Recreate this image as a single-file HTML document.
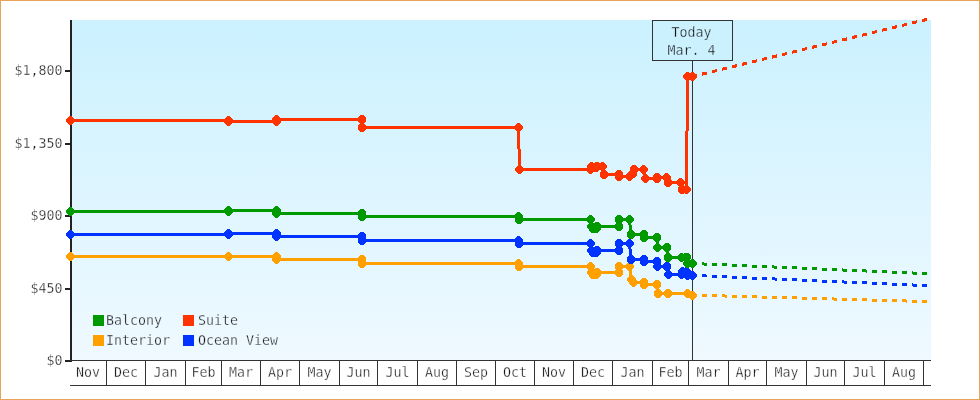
<!DOCTYPE html>
<html><head><meta charset="utf-8"><title>Price chart</title>
<style>
html,body{margin:0;padding:0;background:#fff;}
body{width:980px;height:400px;position:relative;overflow:hidden;}
svg text{font-family:"DejaVu Sans Mono","Liberation Mono",monospace;font-size:13.3px;fill:#151515;stroke:#fff;stroke-width:0.3px;}
svg text.lg{stroke:#ebf7ff;}
svg text.td{stroke:#cbf1ff;}
</style></head><body>
<svg width="980" height="400" viewBox="0 0 980 400" style="position:absolute;left:0;top:0">
<defs><linearGradient id="bg" x1="0" y1="0" x2="0" y2="1"><stop offset="0" stop-color="#cbf1ff"/><stop offset="1" stop-color="#eff9ff"/></linearGradient></defs>
<rect x="0.5" y="0.5" width="979" height="399" fill="#fff" stroke="#e9a359" stroke-width="1"/>
<rect x="72" y="20" width="859" height="340" fill="url(#bg)"/>
<rect x="70" y="20" width="2" height="342" fill="#222"/>
<rect x="65" y="70" width="5" height="2" fill="#222"/>
<text x="62.5" y="75.0" text-anchor="end">$1,800</text>
<rect x="65" y="143" width="5" height="2" fill="#222"/>
<text x="62.5" y="148.0" text-anchor="end">$1,350</text>
<rect x="65" y="215" width="5" height="2" fill="#222"/>
<text x="62.5" y="220.0" text-anchor="end">$900</text>
<rect x="65" y="288" width="5" height="2" fill="#222"/>
<text x="62.5" y="293.0" text-anchor="end">$450</text>
<rect x="65" y="360" width="5" height="2" fill="#222"/>
<text x="62.5" y="365.0" text-anchor="end">$0</text>
<rect x="70" y="360" width="861" height="1" fill="#333333"/>
<rect x="70" y="385" width="861" height="1" fill="#333333"/>
<rect x="106" y="360" width="1" height="26" fill="#333333"/>
<text x="88.0" y="377" text-anchor="middle">Nov</text>
<rect x="145" y="360" width="1" height="26" fill="#333333"/>
<text x="126.0" y="377" text-anchor="middle">Dec</text>
<rect x="185" y="360" width="1" height="26" fill="#333333"/>
<text x="165.5" y="377" text-anchor="middle">Jan</text>
<rect x="221" y="360" width="1" height="26" fill="#333333"/>
<text x="203.5" y="377" text-anchor="middle">Feb</text>
<rect x="260" y="360" width="1" height="26" fill="#333333"/>
<text x="241.0" y="377" text-anchor="middle">Mar</text>
<rect x="299" y="360" width="1" height="26" fill="#333333"/>
<text x="280.0" y="377" text-anchor="middle">Apr</text>
<rect x="339" y="360" width="1" height="26" fill="#333333"/>
<text x="319.5" y="377" text-anchor="middle">May</text>
<rect x="377" y="360" width="1" height="26" fill="#333333"/>
<text x="358.5" y="377" text-anchor="middle">Jun</text>
<rect x="417" y="360" width="1" height="26" fill="#333333"/>
<text x="397.5" y="377" text-anchor="middle">Jul</text>
<rect x="456" y="360" width="1" height="26" fill="#333333"/>
<text x="437.0" y="377" text-anchor="middle">Aug</text>
<rect x="495" y="360" width="1" height="26" fill="#333333"/>
<text x="476.0" y="377" text-anchor="middle">Sep</text>
<rect x="534" y="360" width="1" height="26" fill="#333333"/>
<text x="515.0" y="377" text-anchor="middle">Oct</text>
<rect x="573" y="360" width="1" height="26" fill="#333333"/>
<text x="554.0" y="377" text-anchor="middle">Nov</text>
<rect x="612" y="360" width="1" height="26" fill="#333333"/>
<text x="593.0" y="377" text-anchor="middle">Dec</text>
<rect x="652" y="360" width="1" height="26" fill="#333333"/>
<text x="632.5" y="377" text-anchor="middle">Jan</text>
<rect x="688" y="360" width="1" height="26" fill="#333333"/>
<text x="670.5" y="377" text-anchor="middle">Feb</text>
<rect x="728" y="360" width="1" height="26" fill="#333333"/>
<text x="708.5" y="377" text-anchor="middle">Mar</text>
<rect x="766" y="360" width="1" height="26" fill="#333333"/>
<text x="747.5" y="377" text-anchor="middle">Apr</text>
<rect x="806" y="360" width="1" height="26" fill="#333333"/>
<text x="786.5" y="377" text-anchor="middle">May</text>
<rect x="844" y="360" width="1" height="26" fill="#333333"/>
<text x="825.5" y="377" text-anchor="middle">Jun</text>
<rect x="884" y="360" width="1" height="26" fill="#333333"/>
<text x="864.5" y="377" text-anchor="middle">Jul</text>
<rect x="923" y="360" width="1" height="26" fill="#333333"/>
<text x="904.0" y="377" text-anchor="middle">Aug</text>
<rect x="692" y="60" width="1" height="300" fill="#333333"/>
<line shape-rendering="crispEdges" x1="692.5" y1="295.1" x2="931.0" y2="301.7" stroke="#ffa000" stroke-width="3" stroke-dasharray="5.002 5.002" stroke-dashoffset="0.500"/>
<polyline fill="none" shape-rendering="crispEdges" stroke="#ffa000" stroke-width="3" stroke-linejoin="round" points="70.5,256.5 228.5,256.5 276.5,256.5 276.5,259.5 362.0,259.5 362.0,263.5 518.5,263.5 519.0,266.5 590.5,266.5 591.5,272.5 593.0,274.5 596.5,274.5 597.0,272.5 619.0,272.5 619.0,266.5 629.5,266.5 631.5,279.5 633.5,282.5 644.0,282.5 644.0,284.5 657.0,284.5 658.0,293.5 668.0,293.5 687.5,293.5 692.5,295.5"/>
<polygon points="66.1,255.2 69.2,252.1 71.8,252.1 74.9,255.2 74.9,257.8 71.8,260.9 69.2,260.9 66.1,257.8" fill="#ffa000" shape-rendering="crispEdges"/>
<polygon points="224.1,255.2 227.2,252.1 229.8,252.1 232.9,255.2 232.9,257.8 229.8,260.9 227.2,260.9 224.1,257.8" fill="#ffa000" shape-rendering="crispEdges"/>
<polygon points="272.1,255.2 275.2,252.1 277.8,252.1 280.9,255.2 280.9,257.8 277.8,260.9 275.2,260.9 272.1,257.8" fill="#ffa000" shape-rendering="crispEdges"/>
<polygon points="272.1,258.2 275.2,255.1 277.8,255.1 280.9,258.2 280.9,260.8 277.8,263.9 275.2,263.9 272.1,260.8" fill="#ffa000" shape-rendering="crispEdges"/>
<polygon points="357.6,258.2 360.7,255.1 363.3,255.1 366.4,258.2 366.4,260.8 363.3,263.9 360.7,263.9 357.6,260.8" fill="#ffa000" shape-rendering="crispEdges"/>
<polygon points="357.6,262.2 360.7,259.1 363.3,259.1 366.4,262.2 366.4,264.8 363.3,267.9 360.7,267.9 357.6,264.8" fill="#ffa000" shape-rendering="crispEdges"/>
<polygon points="514.1,262.2 517.2,259.1 519.8,259.1 522.9,262.2 522.9,264.8 519.8,267.9 517.2,267.9 514.1,264.8" fill="#ffa000" shape-rendering="crispEdges"/>
<polygon points="514.6,265.2 517.7,262.1 520.3,262.1 523.4,265.2 523.4,267.8 520.3,270.9 517.7,270.9 514.6,267.8" fill="#ffa000" shape-rendering="crispEdges"/>
<polygon points="586.1,265.2 589.2,262.1 591.8,262.1 594.9,265.2 594.9,267.8 591.8,270.9 589.2,270.9 586.1,267.8" fill="#ffa000" shape-rendering="crispEdges"/>
<polygon points="587.1,271.2 590.2,268.1 592.8,268.1 595.9,271.2 595.9,273.8 592.8,276.9 590.2,276.9 587.1,273.8" fill="#ffa000" shape-rendering="crispEdges"/>
<polygon points="588.6,273.2 591.7,270.1 594.3,270.1 597.4,273.2 597.4,275.8 594.3,278.9 591.7,278.9 588.6,275.8" fill="#ffa000" shape-rendering="crispEdges"/>
<polygon points="592.1,273.2 595.2,270.1 597.8,270.1 600.9,273.2 600.9,275.8 597.8,278.9 595.2,278.9 592.1,275.8" fill="#ffa000" shape-rendering="crispEdges"/>
<polygon points="592.6,271.2 595.7,268.1 598.3,268.1 601.4,271.2 601.4,273.8 598.3,276.9 595.7,276.9 592.6,273.8" fill="#ffa000" shape-rendering="crispEdges"/>
<polygon points="614.6,271.2 617.7,268.1 620.3,268.1 623.4,271.2 623.4,273.8 620.3,276.9 617.7,276.9 614.6,273.8" fill="#ffa000" shape-rendering="crispEdges"/>
<polygon points="614.6,265.2 617.7,262.1 620.3,262.1 623.4,265.2 623.4,267.8 620.3,270.9 617.7,270.9 614.6,267.8" fill="#ffa000" shape-rendering="crispEdges"/>
<polygon points="625.1,265.2 628.2,262.1 630.8,262.1 633.9,265.2 633.9,267.8 630.8,270.9 628.2,270.9 625.1,267.8" fill="#ffa000" shape-rendering="crispEdges"/>
<polygon points="627.1,278.2 630.2,275.1 632.8,275.1 635.9,278.2 635.9,280.8 632.8,283.9 630.2,283.9 627.1,280.8" fill="#ffa000" shape-rendering="crispEdges"/>
<polygon points="629.1,281.2 632.2,278.1 634.8,278.1 637.9,281.2 637.9,283.8 634.8,286.9 632.2,286.9 629.1,283.8" fill="#ffa000" shape-rendering="crispEdges"/>
<polygon points="639.6,281.2 642.7,278.1 645.3,278.1 648.4,281.2 648.4,283.8 645.3,286.9 642.7,286.9 639.6,283.8" fill="#ffa000" shape-rendering="crispEdges"/>
<polygon points="639.6,283.2 642.7,280.1 645.3,280.1 648.4,283.2 648.4,285.8 645.3,288.9 642.7,288.9 639.6,285.8" fill="#ffa000" shape-rendering="crispEdges"/>
<polygon points="652.6,283.2 655.7,280.1 658.3,280.1 661.4,283.2 661.4,285.8 658.3,288.9 655.7,288.9 652.6,285.8" fill="#ffa000" shape-rendering="crispEdges"/>
<polygon points="653.6,292.2 656.7,289.1 659.3,289.1 662.4,292.2 662.4,294.8 659.3,297.9 656.7,297.9 653.6,294.8" fill="#ffa000" shape-rendering="crispEdges"/>
<polygon points="663.6,292.2 666.7,289.1 669.3,289.1 672.4,292.2 672.4,294.8 669.3,297.9 666.7,297.9 663.6,294.8" fill="#ffa000" shape-rendering="crispEdges"/>
<polygon points="683.1,292.2 686.2,289.1 688.8,289.1 691.9,292.2 691.9,294.8 688.8,297.9 686.2,297.9 683.1,294.8" fill="#ffa000" shape-rendering="crispEdges"/>
<polygon points="688.1,294.2 691.2,291.1 693.8,291.1 696.9,294.2 696.9,296.8 693.8,299.9 691.2,299.9 688.1,296.8" fill="#ffa000" shape-rendering="crispEdges"/>
<line shape-rendering="crispEdges" x1="692.5" y1="275.4" x2="931.0" y2="285.8" stroke="#0033ff" stroke-width="3" stroke-dasharray="5.005 5.005" stroke-dashoffset="0.500"/>
<polyline fill="none" shape-rendering="crispEdges" stroke="#0033ff" stroke-width="3" stroke-linejoin="round" points="70.5,234.5 228.5,234.5 228.5,233.5 276.5,233.5 276.5,236.5 362.0,236.5 362.0,240.5 518.5,240.5 519.0,243.5 590.5,243.5 591.5,250.5 593.0,252.5 596.5,252.5 597.0,250.5 619.0,250.5 619.0,243.5 629.5,243.5 631.0,259.5 644.0,259.5 644.0,261.5 657.0,261.5 657.5,266.5 667.0,266.5 668.5,274.5 681.5,274.5 682.5,271.5 686.5,271.5 687.5,275.5 692.5,275.5"/>
<polygon points="66.1,233.2 69.2,230.1 71.8,230.1 74.9,233.2 74.9,235.8 71.8,238.9 69.2,238.9 66.1,235.8" fill="#0033ff" shape-rendering="crispEdges"/>
<polygon points="224.1,233.2 227.2,230.1 229.8,230.1 232.9,233.2 232.9,235.8 229.8,238.9 227.2,238.9 224.1,235.8" fill="#0033ff" shape-rendering="crispEdges"/>
<polygon points="224.1,232.2 227.2,229.1 229.8,229.1 232.9,232.2 232.9,234.8 229.8,237.9 227.2,237.9 224.1,234.8" fill="#0033ff" shape-rendering="crispEdges"/>
<polygon points="272.1,232.2 275.2,229.1 277.8,229.1 280.9,232.2 280.9,234.8 277.8,237.9 275.2,237.9 272.1,234.8" fill="#0033ff" shape-rendering="crispEdges"/>
<polygon points="272.1,235.2 275.2,232.1 277.8,232.1 280.9,235.2 280.9,237.8 277.8,240.9 275.2,240.9 272.1,237.8" fill="#0033ff" shape-rendering="crispEdges"/>
<polygon points="357.6,235.2 360.7,232.1 363.3,232.1 366.4,235.2 366.4,237.8 363.3,240.9 360.7,240.9 357.6,237.8" fill="#0033ff" shape-rendering="crispEdges"/>
<polygon points="357.6,239.2 360.7,236.1 363.3,236.1 366.4,239.2 366.4,241.8 363.3,244.9 360.7,244.9 357.6,241.8" fill="#0033ff" shape-rendering="crispEdges"/>
<polygon points="514.1,239.2 517.2,236.1 519.8,236.1 522.9,239.2 522.9,241.8 519.8,244.9 517.2,244.9 514.1,241.8" fill="#0033ff" shape-rendering="crispEdges"/>
<polygon points="514.6,242.2 517.7,239.1 520.3,239.1 523.4,242.2 523.4,244.8 520.3,247.9 517.7,247.9 514.6,244.8" fill="#0033ff" shape-rendering="crispEdges"/>
<polygon points="586.1,242.2 589.2,239.1 591.8,239.1 594.9,242.2 594.9,244.8 591.8,247.9 589.2,247.9 586.1,244.8" fill="#0033ff" shape-rendering="crispEdges"/>
<polygon points="587.1,249.2 590.2,246.1 592.8,246.1 595.9,249.2 595.9,251.8 592.8,254.9 590.2,254.9 587.1,251.8" fill="#0033ff" shape-rendering="crispEdges"/>
<polygon points="588.6,251.2 591.7,248.1 594.3,248.1 597.4,251.2 597.4,253.8 594.3,256.9 591.7,256.9 588.6,253.8" fill="#0033ff" shape-rendering="crispEdges"/>
<polygon points="592.1,251.2 595.2,248.1 597.8,248.1 600.9,251.2 600.9,253.8 597.8,256.9 595.2,256.9 592.1,253.8" fill="#0033ff" shape-rendering="crispEdges"/>
<polygon points="592.6,249.2 595.7,246.1 598.3,246.1 601.4,249.2 601.4,251.8 598.3,254.9 595.7,254.9 592.6,251.8" fill="#0033ff" shape-rendering="crispEdges"/>
<polygon points="614.6,249.2 617.7,246.1 620.3,246.1 623.4,249.2 623.4,251.8 620.3,254.9 617.7,254.9 614.6,251.8" fill="#0033ff" shape-rendering="crispEdges"/>
<polygon points="614.6,242.2 617.7,239.1 620.3,239.1 623.4,242.2 623.4,244.8 620.3,247.9 617.7,247.9 614.6,244.8" fill="#0033ff" shape-rendering="crispEdges"/>
<polygon points="625.1,242.2 628.2,239.1 630.8,239.1 633.9,242.2 633.9,244.8 630.8,247.9 628.2,247.9 625.1,244.8" fill="#0033ff" shape-rendering="crispEdges"/>
<polygon points="626.6,258.2 629.7,255.1 632.3,255.1 635.4,258.2 635.4,260.8 632.3,263.9 629.7,263.9 626.6,260.8" fill="#0033ff" shape-rendering="crispEdges"/>
<polygon points="639.6,258.2 642.7,255.1 645.3,255.1 648.4,258.2 648.4,260.8 645.3,263.9 642.7,263.9 639.6,260.8" fill="#0033ff" shape-rendering="crispEdges"/>
<polygon points="639.6,260.2 642.7,257.1 645.3,257.1 648.4,260.2 648.4,262.8 645.3,265.9 642.7,265.9 639.6,262.8" fill="#0033ff" shape-rendering="crispEdges"/>
<polygon points="652.6,260.2 655.7,257.1 658.3,257.1 661.4,260.2 661.4,262.8 658.3,265.9 655.7,265.9 652.6,262.8" fill="#0033ff" shape-rendering="crispEdges"/>
<polygon points="653.1,265.2 656.2,262.1 658.8,262.1 661.9,265.2 661.9,267.8 658.8,270.9 656.2,270.9 653.1,267.8" fill="#0033ff" shape-rendering="crispEdges"/>
<polygon points="662.6,265.2 665.7,262.1 668.3,262.1 671.4,265.2 671.4,267.8 668.3,270.9 665.7,270.9 662.6,267.8" fill="#0033ff" shape-rendering="crispEdges"/>
<polygon points="664.1,273.2 667.2,270.1 669.8,270.1 672.9,273.2 672.9,275.8 669.8,278.9 667.2,278.9 664.1,275.8" fill="#0033ff" shape-rendering="crispEdges"/>
<polygon points="677.1,273.2 680.2,270.1 682.8,270.1 685.9,273.2 685.9,275.8 682.8,278.9 680.2,278.9 677.1,275.8" fill="#0033ff" shape-rendering="crispEdges"/>
<polygon points="678.1,270.2 681.2,267.1 683.8,267.1 686.9,270.2 686.9,272.8 683.8,275.9 681.2,275.9 678.1,272.8" fill="#0033ff" shape-rendering="crispEdges"/>
<polygon points="682.1,270.2 685.2,267.1 687.8,267.1 690.9,270.2 690.9,272.8 687.8,275.9 685.2,275.9 682.1,272.8" fill="#0033ff" shape-rendering="crispEdges"/>
<polygon points="683.1,274.2 686.2,271.1 688.8,271.1 691.9,274.2 691.9,276.8 688.8,279.9 686.2,279.9 683.1,276.8" fill="#0033ff" shape-rendering="crispEdges"/>
<polygon points="688.1,274.2 691.2,271.1 693.8,271.1 696.9,274.2 696.9,276.8 693.8,279.9 691.2,279.9 688.1,276.8" fill="#0033ff" shape-rendering="crispEdges"/>
<line shape-rendering="crispEdges" x1="692.5" y1="263.5" x2="931.0" y2="273.8" stroke="#009900" stroke-width="3" stroke-dasharray="5.005 5.005" stroke-dashoffset="0.500"/>
<polyline fill="none" shape-rendering="crispEdges" stroke="#009900" stroke-width="3" stroke-linejoin="round" points="70.5,211.5 228.5,211.5 228.5,210.5 276.5,210.5 276.5,213.5 362.0,213.5 362.0,216.5 518.5,216.5 519.0,219.5 590.5,219.5 591.5,226.5 593.0,228.5 596.5,228.5 597.0,226.5 619.0,226.5 619.0,219.5 629.5,219.5 631.0,234.5 644.0,234.5 644.0,237.5 657.0,237.5 657.5,247.5 667.0,247.5 668.0,257.5 681.5,257.5 686.5,257.0 687.5,263.5 692.5,263.5"/>
<polygon points="66.1,210.2 69.2,207.1 71.8,207.1 74.9,210.2 74.9,212.8 71.8,215.9 69.2,215.9 66.1,212.8" fill="#009900" shape-rendering="crispEdges"/>
<polygon points="224.1,210.2 227.2,207.1 229.8,207.1 232.9,210.2 232.9,212.8 229.8,215.9 227.2,215.9 224.1,212.8" fill="#009900" shape-rendering="crispEdges"/>
<polygon points="224.1,209.2 227.2,206.1 229.8,206.1 232.9,209.2 232.9,211.8 229.8,214.9 227.2,214.9 224.1,211.8" fill="#009900" shape-rendering="crispEdges"/>
<polygon points="272.1,209.2 275.2,206.1 277.8,206.1 280.9,209.2 280.9,211.8 277.8,214.9 275.2,214.9 272.1,211.8" fill="#009900" shape-rendering="crispEdges"/>
<polygon points="272.1,212.2 275.2,209.1 277.8,209.1 280.9,212.2 280.9,214.8 277.8,217.9 275.2,217.9 272.1,214.8" fill="#009900" shape-rendering="crispEdges"/>
<polygon points="357.6,212.2 360.7,209.1 363.3,209.1 366.4,212.2 366.4,214.8 363.3,217.9 360.7,217.9 357.6,214.8" fill="#009900" shape-rendering="crispEdges"/>
<polygon points="357.6,215.2 360.7,212.1 363.3,212.1 366.4,215.2 366.4,217.8 363.3,220.9 360.7,220.9 357.6,217.8" fill="#009900" shape-rendering="crispEdges"/>
<polygon points="514.1,215.2 517.2,212.1 519.8,212.1 522.9,215.2 522.9,217.8 519.8,220.9 517.2,220.9 514.1,217.8" fill="#009900" shape-rendering="crispEdges"/>
<polygon points="514.6,218.2 517.7,215.1 520.3,215.1 523.4,218.2 523.4,220.8 520.3,223.9 517.7,223.9 514.6,220.8" fill="#009900" shape-rendering="crispEdges"/>
<polygon points="586.1,218.2 589.2,215.1 591.8,215.1 594.9,218.2 594.9,220.8 591.8,223.9 589.2,223.9 586.1,220.8" fill="#009900" shape-rendering="crispEdges"/>
<polygon points="587.1,225.2 590.2,222.1 592.8,222.1 595.9,225.2 595.9,227.8 592.8,230.9 590.2,230.9 587.1,227.8" fill="#009900" shape-rendering="crispEdges"/>
<polygon points="588.6,227.2 591.7,224.1 594.3,224.1 597.4,227.2 597.4,229.8 594.3,232.9 591.7,232.9 588.6,229.8" fill="#009900" shape-rendering="crispEdges"/>
<polygon points="592.1,227.2 595.2,224.1 597.8,224.1 600.9,227.2 600.9,229.8 597.8,232.9 595.2,232.9 592.1,229.8" fill="#009900" shape-rendering="crispEdges"/>
<polygon points="592.6,225.2 595.7,222.1 598.3,222.1 601.4,225.2 601.4,227.8 598.3,230.9 595.7,230.9 592.6,227.8" fill="#009900" shape-rendering="crispEdges"/>
<polygon points="614.6,225.2 617.7,222.1 620.3,222.1 623.4,225.2 623.4,227.8 620.3,230.9 617.7,230.9 614.6,227.8" fill="#009900" shape-rendering="crispEdges"/>
<polygon points="614.6,218.2 617.7,215.1 620.3,215.1 623.4,218.2 623.4,220.8 620.3,223.9 617.7,223.9 614.6,220.8" fill="#009900" shape-rendering="crispEdges"/>
<polygon points="625.1,218.2 628.2,215.1 630.8,215.1 633.9,218.2 633.9,220.8 630.8,223.9 628.2,223.9 625.1,220.8" fill="#009900" shape-rendering="crispEdges"/>
<polygon points="626.6,233.2 629.7,230.1 632.3,230.1 635.4,233.2 635.4,235.8 632.3,238.9 629.7,238.9 626.6,235.8" fill="#009900" shape-rendering="crispEdges"/>
<polygon points="639.6,233.2 642.7,230.1 645.3,230.1 648.4,233.2 648.4,235.8 645.3,238.9 642.7,238.9 639.6,235.8" fill="#009900" shape-rendering="crispEdges"/>
<polygon points="639.6,236.2 642.7,233.1 645.3,233.1 648.4,236.2 648.4,238.8 645.3,241.9 642.7,241.9 639.6,238.8" fill="#009900" shape-rendering="crispEdges"/>
<polygon points="652.6,236.2 655.7,233.1 658.3,233.1 661.4,236.2 661.4,238.8 658.3,241.9 655.7,241.9 652.6,238.8" fill="#009900" shape-rendering="crispEdges"/>
<polygon points="653.1,246.2 656.2,243.1 658.8,243.1 661.9,246.2 661.9,248.8 658.8,251.9 656.2,251.9 653.1,248.8" fill="#009900" shape-rendering="crispEdges"/>
<polygon points="662.6,246.2 665.7,243.1 668.3,243.1 671.4,246.2 671.4,248.8 668.3,251.9 665.7,251.9 662.6,248.8" fill="#009900" shape-rendering="crispEdges"/>
<polygon points="663.6,256.2 666.7,253.1 669.3,253.1 672.4,256.2 672.4,258.8 669.3,261.9 666.7,261.9 663.6,258.8" fill="#009900" shape-rendering="crispEdges"/>
<polygon points="677.1,256.2 680.2,253.1 682.8,253.1 685.9,256.2 685.9,258.8 682.8,261.9 680.2,261.9 677.1,258.8" fill="#009900" shape-rendering="crispEdges"/>
<polygon points="682.1,255.7 685.2,252.6 687.8,252.6 690.9,255.7 690.9,258.3 687.8,261.4 685.2,261.4 682.1,258.3" fill="#009900" shape-rendering="crispEdges"/>
<polygon points="683.1,262.2 686.2,259.1 688.8,259.1 691.9,262.2 691.9,264.8 688.8,267.9 686.2,267.9 683.1,264.8" fill="#009900" shape-rendering="crispEdges"/>
<polygon points="688.1,262.2 691.2,259.1 693.8,259.1 696.9,262.2 696.9,264.8 693.8,267.9 691.2,267.9 688.1,264.8" fill="#009900" shape-rendering="crispEdges"/>
<line shape-rendering="crispEdges" x1="692.0" y1="76.6" x2="931.0" y2="18.4" stroke="#ff3300" stroke-width="3" stroke-dasharray="5.146 5.146" stroke-dashoffset="0.000"/>
<polyline fill="none" shape-rendering="crispEdges" stroke="#ff3300" stroke-width="3" stroke-linejoin="round" points="70.5,120.5 228.5,120.5 228.5,121.5 276.5,121.5 276.5,119.5 362.0,119.5 362.0,127.5 518.5,127.5 519.5,169.5 590.5,169.5 591.5,166.5 595.5,168.0 597.0,166.5 602.5,166.5 604.0,174.5 619.0,174.5 619.0,176.5 629.5,176.5 633.0,173.5 634.0,169.5 643.5,169.5 645.5,178.5 657.0,178.5 657.0,177.5 666.5,177.5 668.0,182.5 680.5,182.5 682.0,189.5 686.5,189.5 687.5,76.5 692.5,76.5"/>
<polygon points="66.1,119.2 69.2,116.1 71.8,116.1 74.9,119.2 74.9,121.8 71.8,124.9 69.2,124.9 66.1,121.8" fill="#ff3300" shape-rendering="crispEdges"/>
<polygon points="224.1,119.2 227.2,116.1 229.8,116.1 232.9,119.2 232.9,121.8 229.8,124.9 227.2,124.9 224.1,121.8" fill="#ff3300" shape-rendering="crispEdges"/>
<polygon points="224.1,120.2 227.2,117.1 229.8,117.1 232.9,120.2 232.9,122.8 229.8,125.9 227.2,125.9 224.1,122.8" fill="#ff3300" shape-rendering="crispEdges"/>
<polygon points="272.1,120.2 275.2,117.1 277.8,117.1 280.9,120.2 280.9,122.8 277.8,125.9 275.2,125.9 272.1,122.8" fill="#ff3300" shape-rendering="crispEdges"/>
<polygon points="272.1,118.2 275.2,115.1 277.8,115.1 280.9,118.2 280.9,120.8 277.8,123.9 275.2,123.9 272.1,120.8" fill="#ff3300" shape-rendering="crispEdges"/>
<polygon points="357.6,118.2 360.7,115.1 363.3,115.1 366.4,118.2 366.4,120.8 363.3,123.9 360.7,123.9 357.6,120.8" fill="#ff3300" shape-rendering="crispEdges"/>
<polygon points="357.6,126.2 360.7,123.1 363.3,123.1 366.4,126.2 366.4,128.8 363.3,131.9 360.7,131.9 357.6,128.8" fill="#ff3300" shape-rendering="crispEdges"/>
<polygon points="514.1,126.2 517.2,123.1 519.8,123.1 522.9,126.2 522.9,128.8 519.8,131.9 517.2,131.9 514.1,128.8" fill="#ff3300" shape-rendering="crispEdges"/>
<polygon points="515.1,168.2 518.2,165.1 520.8,165.1 523.9,168.2 523.9,170.8 520.8,173.9 518.2,173.9 515.1,170.8" fill="#ff3300" shape-rendering="crispEdges"/>
<polygon points="586.1,168.2 589.2,165.1 591.8,165.1 594.9,168.2 594.9,170.8 591.8,173.9 589.2,173.9 586.1,170.8" fill="#ff3300" shape-rendering="crispEdges"/>
<polygon points="587.1,165.2 590.2,162.1 592.8,162.1 595.9,165.2 595.9,167.8 592.8,170.9 590.2,170.9 587.1,167.8" fill="#ff3300" shape-rendering="crispEdges"/>
<polygon points="591.1,166.7 594.2,163.6 596.8,163.6 599.9,166.7 599.9,169.3 596.8,172.4 594.2,172.4 591.1,169.3" fill="#ff3300" shape-rendering="crispEdges"/>
<polygon points="592.6,165.2 595.7,162.1 598.3,162.1 601.4,165.2 601.4,167.8 598.3,170.9 595.7,170.9 592.6,167.8" fill="#ff3300" shape-rendering="crispEdges"/>
<polygon points="598.1,165.2 601.2,162.1 603.8,162.1 606.9,165.2 606.9,167.8 603.8,170.9 601.2,170.9 598.1,167.8" fill="#ff3300" shape-rendering="crispEdges"/>
<polygon points="599.6,173.2 602.7,170.1 605.3,170.1 608.4,173.2 608.4,175.8 605.3,178.9 602.7,178.9 599.6,175.8" fill="#ff3300" shape-rendering="crispEdges"/>
<polygon points="614.6,173.2 617.7,170.1 620.3,170.1 623.4,173.2 623.4,175.8 620.3,178.9 617.7,178.9 614.6,175.8" fill="#ff3300" shape-rendering="crispEdges"/>
<polygon points="614.6,175.2 617.7,172.1 620.3,172.1 623.4,175.2 623.4,177.8 620.3,180.9 617.7,180.9 614.6,177.8" fill="#ff3300" shape-rendering="crispEdges"/>
<polygon points="625.1,175.2 628.2,172.1 630.8,172.1 633.9,175.2 633.9,177.8 630.8,180.9 628.2,180.9 625.1,177.8" fill="#ff3300" shape-rendering="crispEdges"/>
<polygon points="628.6,172.2 631.7,169.1 634.3,169.1 637.4,172.2 637.4,174.8 634.3,177.9 631.7,177.9 628.6,174.8" fill="#ff3300" shape-rendering="crispEdges"/>
<polygon points="629.6,168.2 632.7,165.1 635.3,165.1 638.4,168.2 638.4,170.8 635.3,173.9 632.7,173.9 629.6,170.8" fill="#ff3300" shape-rendering="crispEdges"/>
<polygon points="639.1,168.2 642.2,165.1 644.8,165.1 647.9,168.2 647.9,170.8 644.8,173.9 642.2,173.9 639.1,170.8" fill="#ff3300" shape-rendering="crispEdges"/>
<polygon points="641.1,177.2 644.2,174.1 646.8,174.1 649.9,177.2 649.9,179.8 646.8,182.9 644.2,182.9 641.1,179.8" fill="#ff3300" shape-rendering="crispEdges"/>
<polygon points="652.6,177.2 655.7,174.1 658.3,174.1 661.4,177.2 661.4,179.8 658.3,182.9 655.7,182.9 652.6,179.8" fill="#ff3300" shape-rendering="crispEdges"/>
<polygon points="652.6,176.2 655.7,173.1 658.3,173.1 661.4,176.2 661.4,178.8 658.3,181.9 655.7,181.9 652.6,178.8" fill="#ff3300" shape-rendering="crispEdges"/>
<polygon points="662.1,176.2 665.2,173.1 667.8,173.1 670.9,176.2 670.9,178.8 667.8,181.9 665.2,181.9 662.1,178.8" fill="#ff3300" shape-rendering="crispEdges"/>
<polygon points="663.6,181.2 666.7,178.1 669.3,178.1 672.4,181.2 672.4,183.8 669.3,186.9 666.7,186.9 663.6,183.8" fill="#ff3300" shape-rendering="crispEdges"/>
<polygon points="676.1,181.2 679.2,178.1 681.8,178.1 684.9,181.2 684.9,183.8 681.8,186.9 679.2,186.9 676.1,183.8" fill="#ff3300" shape-rendering="crispEdges"/>
<polygon points="677.6,188.2 680.7,185.1 683.3,185.1 686.4,188.2 686.4,190.8 683.3,193.9 680.7,193.9 677.6,190.8" fill="#ff3300" shape-rendering="crispEdges"/>
<polygon points="682.1,188.2 685.2,185.1 687.8,185.1 690.9,188.2 690.9,190.8 687.8,193.9 685.2,193.9 682.1,190.8" fill="#ff3300" shape-rendering="crispEdges"/>
<polygon points="683.1,75.2 686.2,72.1 688.8,72.1 691.9,75.2 691.9,77.8 688.8,80.9 686.2,80.9 683.1,77.8" fill="#ff3300" shape-rendering="crispEdges"/>
<polygon points="688.1,75.2 691.2,72.1 693.8,72.1 696.9,75.2 696.9,77.8 693.8,80.9 691.2,80.9 688.1,77.8" fill="#ff3300" shape-rendering="crispEdges"/>
<rect x="652.5" y="20.5" width="80" height="40" fill="#cbf1ff" stroke="#333333" stroke-width="1"/>
<text class="td" x="691.5" y="36.5" text-anchor="middle">Today</text>
<text class="td" x="691.5" y="54.5" text-anchor="middle">Mar. 4</text>
<rect x="93" y="315" width="11" height="11" fill="#009900"/>
<text class="lg" x="106" y="325">Balcony</text>
<rect x="183" y="315" width="11" height="11" fill="#ff3300"/>
<text class="lg" x="198" y="325">Suite</text>
<rect x="93" y="335" width="11" height="11" fill="#ffa000"/>
<text class="lg" x="106" y="345">Interior</text>
<rect x="183" y="335" width="11" height="11" fill="#0033ff"/>
<text class="lg" x="198" y="345">Ocean View</text>
</svg>
</body></html>
